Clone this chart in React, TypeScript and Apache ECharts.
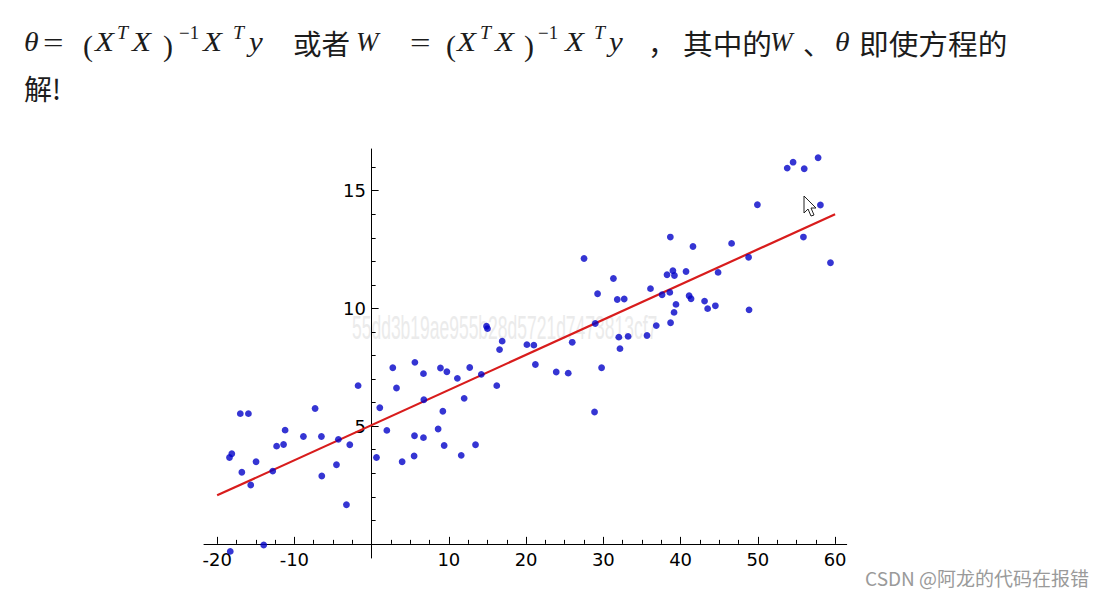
import React, { useEffect, useRef } from "react";
import * as echarts from "echarts";

// ---- data ----
const pointX = [
  -18.4, -18.1, -17.0, -15.95, -16.8, -15.65, -14.96, -18.3, -13.97, -12.8,
  -12.3, -11.4, -11.2, -8.83, -7.32, -6.5, -6.45, -4.55, -4.3, -3.26,
  -2.83, -1.75, 0.63, 1.06, 1.97, 2.74, 3.22, 3.95, 5.5, 5.55,
  5.6, 6.71, 6.71, 6.76, 8.61, 8.91, 9.22, 9.39, 9.74, 11.1,
  11.6, 11.98, 12.7, 13.45, 14.2, 14.87, 15.0, 16.2, 16.56, 16.9,
  20.1, 21.0, 21.2, 23.9, 25.45, 25.97, 27.5, 28.86, 28.95, 29.25,
  29.77, 31.3, 31.8, 32.0, 32.15, 32.7, 33.2, 35.65, 36.1, 36.85,
  37.6, 38.24, 38.6, 38.67, 38.7, 39.0, 39.2, 39.15, 39.4, 40.7,
  41.1, 41.35, 41.6, 43.1, 43.5, 44.5, 44.85, 46.6, 48.8, 48.86,
  49.94, 53.8, 54.56, 55.9, 56.0, 57.8, 58.1, 59.4,
];
const pointY = [
  3.67, 3.83, 5.53, 5.53, 3.04, 2.5, 3.49, -0.32, -0.05, 3.09,
  4.15, 4.22, 4.83, 4.56, 5.75, 4.56, 2.88, 3.36, 4.44, 1.66,
  4.21, 6.72, 3.67, 5.78, 4.82, 7.48, 6.62, 3.49, 3.73, 4.59,
  7.71, 7.23, 4.51, 6.12, 4.88, 7.47, 5.63, 4.18, 7.31, 7.03,
  3.76, 6.18, 7.49, 4.21, 7.2, 9.24, 9.14, 6.72, 8.25, 8.61,
  8.46, 8.44, 7.62, 7.3, 7.25, 8.56, 12.12, 5.6, 9.36, 10.62,
  7.48, 11.27, 10.38, 8.78, 8.29, 10.4, 8.81, 8.85, 10.84, 9.27,
  10.58, 11.43, 10.68, 13.03, 9.39, 11.6, 11.4, 9.83, 10.17, 11.57,
  10.54, 10.41, 12.63, 10.31, 9.99, 10.11, 11.53, 12.76, 12.17, 9.94,
  14.4, 15.96, 16.21, 13.03, 15.93, 16.4, 14.39, 11.94,
];
const fitX = [-20, 60];
const fitY = [2.06, 14.0];

const xMajorTicks = [-20, -10, 10, 20, 30, 40, 50, 60];
const xMinorTicks = [
  -17.5, -15, -12.5, -7.5, -5, -2.5, 2.5, 5, 7.5, 12.5, 15, 17.5,
  22.5, 25, 27.5, 32.5, 35, 37.5, 42.5, 45, 47.5, 52.5, 55, 57.5,
];
const yMajorTicks = [5, 10, 15];
const yMinorTicks = [1, 2, 3, 4, 6, 7, 8, 9, 11, 12, 13, 14, 16];

const watermark = "55dd3b19ae955b28d5721d7473813cf7";
const credit = "CSDN @阿龙的代码在报错";

const MATH = '"Liberation Serif", "DejaVu Serif", serif';
const CJK = '"Noto Sans CJK SC", "Noto Sans", sans-serif';
const INK = "#1c1c1c";

// text, left x, middle y, font size, italic, horizontal stretch, family
type Piece = [string, number, number, number, boolean, number, string?];
const headerPieces: Piece[] = [
  ["θ", 24, 42, 27, true, 1.1],
  ["=", 43, 43, 27, false, 1.35],
  ["(", 83, 45, 30, false, 1],
  ["X", 95, 42, 27, true, 1.15],
  ["T", 117, 33, 18, true, 1.1],
  ["X", 132, 42, 27, true, 1.15],
  [")", 163, 45, 30, false, 1],
  ["−1", 179, 33, 18, false, 1.05],
  ["X", 203, 42, 27, true, 1.15],
  ["T", 233, 33, 18, true, 1.1],
  ["y", 249, 42, 27, true, 1.15],
  ["或者", 293, 43, 28, false, 1.02, CJK],
  ["W", 356, 42, 27, true, 1.0],
  ["=", 410, 43, 27, false, 1.35],
  ["(", 446, 45, 30, false, 1],
  ["X", 457, 42, 27, true, 1.15],
  ["T", 480, 33, 18, true, 1.1],
  ["X", 495, 42, 27, true, 1.15],
  [")", 524, 45, 30, false, 1],
  ["−1", 538, 33, 18, false, 1.05],
  ["X", 565, 42, 27, true, 1.15],
  ["T", 594, 33, 18, true, 1.1],
  ["y", 609, 42, 27, true, 1.15],
  ["，", 648, 43, 28, false, 1, CJK],
  ["其中的", 683, 43, 28, false, 1.06, CJK],
  ["W", 770, 42, 27, true, 1.0],
  ["、", 803, 43, 28, false, 1, CJK],
  ["θ", 835, 42, 27, true, 1.1],
  ["即使方程的", 859, 43, 28, false, 1.06, CJK],
  ["解!", 24, 88, 28, false, 1, CJK],
];

export default function App() {
  const ref = useRef<HTMLDivElement>(null);

  useEffect(() => {
    if (!ref.current) return;
    const chart = echarts.init(ref.current, null, { renderer: "svg" });

    const scatterData = pointX.map((x, i) => [x, pointY[i]]);
    const lineData = fitX.map((x, i) => [x, fitY[i]]);

    const headerGraphics = headerPieces.map(([text, x, y, size, italic, sx, fam]) => ({
      type: "text",
      x,
      y,
      scaleX: sx,
      z: 10,
      style: {
        text,
        x: 0,
        y: 0,
        align: "left",
        verticalAlign: "middle",
        fontSize: size,
        fontStyle: italic ? "italic" : "normal",
        fontFamily: fam || MATH,
        fill: INK,
      },
    }));

    const xRange = { min: -21.7, max: 61.5 };
    const yRange = { min: -0.6, max: 16.77 };
    const tickFont = { fontSize: 18, color: "#000", fontFamily: '"DejaVu Sans", sans-serif' };

    chart.setOption({
      animation: false,
      backgroundColor: "#ffffff",
      grid: { left: 204, top: 149, width: 642.7, height: 409, containLabel: false },
      xAxis: [
        {
          type: "value",
          ...xRange,
          position: "bottom",
          axisLine: { show: true, onZero: true, onZeroAxisIndex: 0, lineStyle: { color: "#000", width: 1 } },
          axisTick: { show: true, inside: true, length: 7, customValues: xMajorTicks, lineStyle: { color: "#000", width: 1 } },
          axisLabel: { show: true, customValues: xMajorTicks, margin: -8, ...tickFont },
          splitLine: { show: false },
        },
        {
          type: "value",
          ...xRange,
          position: "bottom",
          axisLine: { show: false, onZero: true, onZeroAxisIndex: 1 },
          axisTick: { show: true, inside: true, length: 4, customValues: xMinorTicks, lineStyle: { color: "#000", width: 1 } },
          axisLabel: { show: false },
          splitLine: { show: false },
        },
      ],
      yAxis: [
        {
          type: "value",
          ...yRange,
          position: "left",
          axisLine: { show: true, onZero: true, onZeroAxisIndex: 0, lineStyle: { color: "#000", width: 1 } },
          axisTick: { show: true, inside: true, length: 7, customValues: yMajorTicks, lineStyle: { color: "#000", width: 1 } },
          axisLabel: { show: true, customValues: yMajorTicks, margin: -162, ...tickFont },
          splitLine: { show: false },
        },
        {
          type: "value",
          ...yRange,
          position: "left",
          axisLine: { show: false, onZero: true, onZeroAxisIndex: 1 },
          axisTick: { show: true, inside: true, length: 4, customValues: yMinorTicks, lineStyle: { color: "#000", width: 1 } },
          axisLabel: { show: false },
          splitLine: { show: false },
        },
      ],
      series: [
        {
          type: "line",
          xAxisIndex: 0,
          yAxisIndex: 0,
          data: lineData,
          symbol: "none",
          lineStyle: { color: "#d81c1c", width: 2.2 },
          z: 3,
        },
        {
          type: "scatter",
          xAxisIndex: 0,
          yAxisIndex: 0,
          data: scatterData,
          symbol: "circle",
          symbolSize: 6.8,
          itemStyle: { color: "#0303c8" },
          z: 4,
        },
      ],
      graphic: [
        {
          type: "text",
          x: 352,
          y: 328,
          scaleX: 0.53,
          z: -1,
          style: {
            text: watermark,
            x: 0,
            y: 0,
            align: "left",
            verticalAlign: "middle",
            fontSize: 33,
            fontFamily: '"Liberation Sans", sans-serif',
            fill: "#ebebeb",
          },
        },
        ...headerGraphics,
        {
          type: "text",
          right: 15,
          top: 568,
          style: {
            text: credit,
            fontSize: 19,
            fontFamily: CJK,
            fill: "#9a9a9a",
          },
        },
        {
          type: "polygon",
          z: 20,
          shape: {
            points: [
              [804, 196], [804, 213], [808, 209], [811, 216], [814, 215], [811, 208], [816, 208],
            ],
          },
          style: { fill: "#ffffff", stroke: "#222", lineWidth: 1 },
        },
      ],
    });

    return () => chart.dispose();
  }, []);

  return (
    <div
      ref={ref}
      style={{ position: "fixed", left: 0, top: 0, width: 1104, height: 598, background: "#fff" }}
    />
  );
}
